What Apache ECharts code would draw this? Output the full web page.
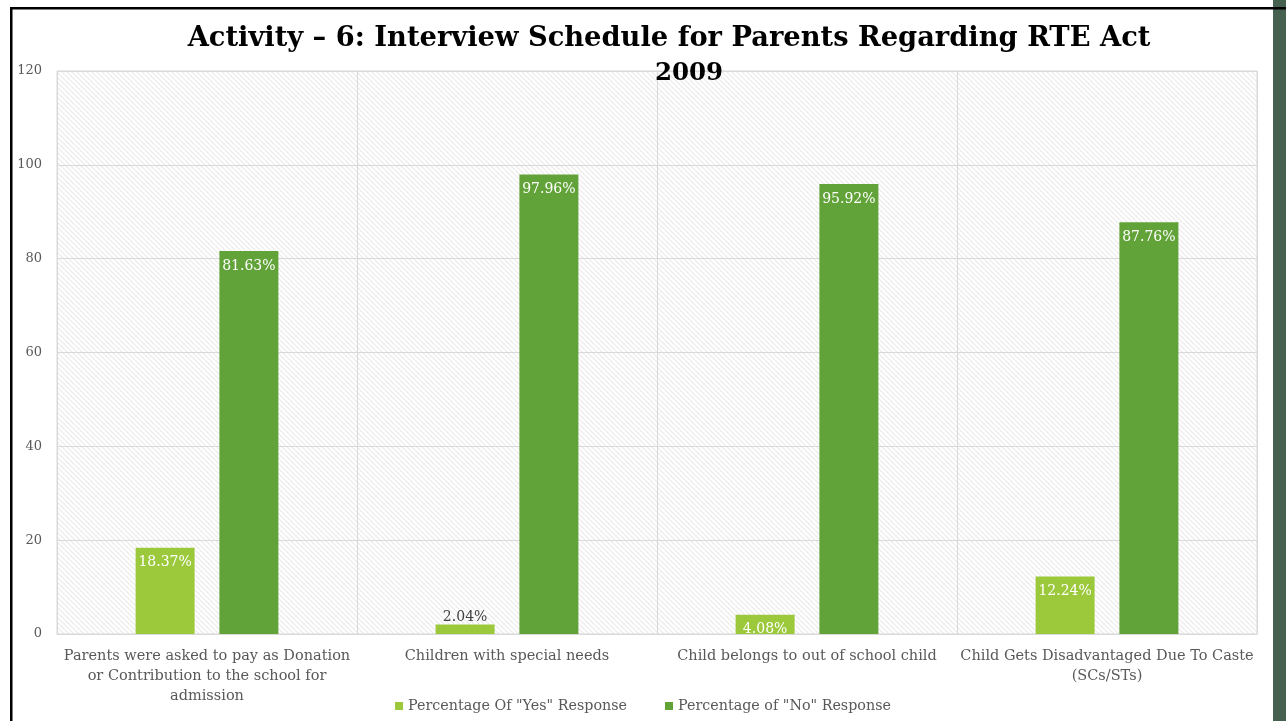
<!DOCTYPE html>
<html><head><meta charset="utf-8">
<script src="https://cdn.jsdelivr.net/npm/echarts@6/dist/echarts.min.js"></script>
<style>html,body{margin:0;padding:0;background:#fff}#c{width:1286px;height:721px}</style>
</head><body><div id="c"></div>
<script>
const titleLines = ['Activity – 6: Interview Schedule for Parents Regarding RTE Act', '2009'];
const categories = [
  'Parents were asked to pay as Donation\nor Contribution to the school for\nadmission',
  'Children with special needs',
  'Child belongs to out of school child',
  'Child Gets Disadvantaged Due To Caste\n(SCs/STs)'
];
const seriesNames = ['Percentage Of "Yes" Response', 'Percentage of "No" Response'];
const yesValues = [18.37, 2.04, 4.08, 12.24];
const noValues = [81.63, 97.96, 95.92, 87.76];
const yTicks = [0, 20, 40, 60, 80, 100, 120];

const FONT = '"DejaVu Serif", "Liberation Serif", serif';

function hatch() {
  const c = document.createElement('canvas');
  c.width = 5; c.height = 5;
  const g = c.getContext('2d');
  g.fillStyle = '#ffffff'; g.fillRect(0, 0, 5, 5);
  g.strokeStyle = '#ececec'; g.lineWidth = 1.3;
  for (let k = -5; k <= 10; k += 5) {
    g.beginPath(); g.moveTo(k, 0); g.lineTo(k + 5, 5); g.stroke();
  }
  return c;
}

const titleStyle = {fontFamily: FONT, fontWeight: 'bold', fontSize: 27.3, lineHeight: 35, color: '#000'};
const chart = echarts.init(document.getElementById('c'), null, {renderer: 'canvas'});
const labelCommon = {show: true, fontFamily: FONT, fontSize: 14, formatter: p => p.value.toFixed(2) + '%'};
chart.setOption({
  animation: false,
  title: [
    {text: titleLines[0], left: 664, textAlign: 'center', top: 16, textStyle: titleStyle},
    {text: titleLines[1], left: 684, textAlign: 'center', top: 51, textStyle: Object.assign({}, titleStyle, {fontSize: 24.5})}
  ],
  grid: {
    left: 57, right: 29, top: 71, bottom: 87, show: true,
    backgroundColor: {image: hatch(), repeat: 'repeat'},
    borderColor: '#d9d9d9', borderWidth: 1
  },
  legend: {
    bottom: 3, left: 'center', icon: 'rect', itemWidth: 8, itemHeight: 8, itemGap: 38,
    textStyle: {fontFamily: FONT, fontSize: 14.3, color: '#595959'},
    data: seriesNames
  },
  xAxis: {
    type: 'category', data: categories,
    axisLine: {show: true, lineStyle: {color: '#d9d9d9'}},
    axisTick: {show: false},
    splitLine: {show: true, lineStyle: {color: '#d9d9d9'}},
    axisLabel: {fontFamily: FONT, fontSize: 14.5, color: '#595959', lineHeight: 20, margin: 12, interval: 0}
  },
  yAxis: {
    type: 'value', min: yTicks[0], max: yTicks[yTicks.length - 1], interval: 20,
    axisLine: {show: false}, axisTick: {show: false},
    splitLine: {lineStyle: {color: '#d9d9d9'}},
    axisLabel: {fontFamily: FONT, fontSize: 13, color: '#595959', margin: 15}
  },
  series: [
    {
      name: seriesNames[0], type: 'bar', data: yesValues.map((v, i) => ({
        value: v,
        label: v < 3 ? {position: 'top', color: '#404040', distance: 0} : {position: 'insideTop', color: '#fff', distance: 8}
      })),
      itemStyle: {color: '#9BC93B'}, barWidth: 59, barGap: '42%',
      label: labelCommon
    },
    {
      name: seriesNames[1], type: 'bar', data: noValues,
      itemStyle: {color: '#62A339'}, barWidth: 59,
      label: Object.assign({}, labelCommon, {position: 'insideTop', color: '#fff', distance: 8})
    }
  ],
  graphic: [
    {type: 'rect', shape: {x: 1273, y: 0, width: 13, height: 721}, style: {fill: '#46614F'}, z: 100},
    {type: 'rect', shape: {x: 10, y: 7, width: 1276, height: 2.5}, style: {fill: '#000'}, z: 101},
    {type: 'rect', shape: {x: 10, y: 7, width: 2.5, height: 714}, style: {fill: '#000'}, z: 101}
  ]
});
</script></body></html>
